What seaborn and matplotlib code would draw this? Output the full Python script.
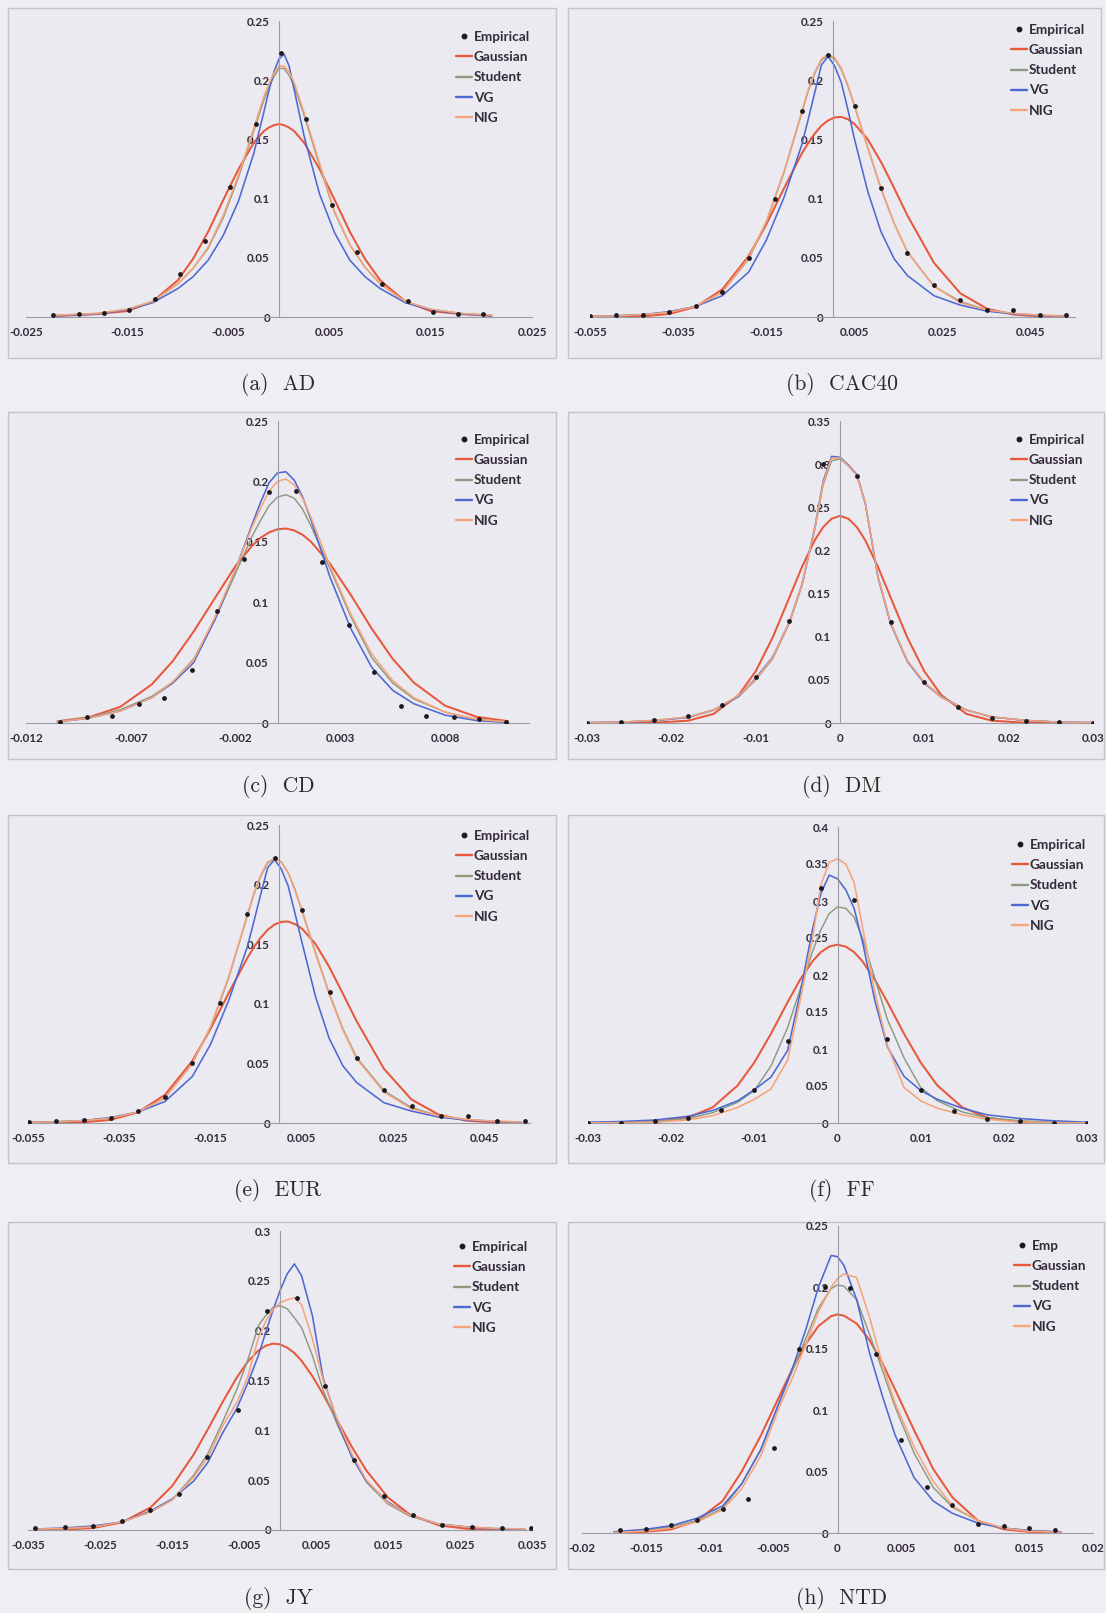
import matplotlib
matplotlib.use("Agg")
import matplotlib.pyplot as plt
import seaborn as sns
import pandas as pd
from matplotlib.patches import Rectangle
from matplotlib.lines import Line2D

sns.set_theme(style="white")
plt.rcParams['font.family'] = ['Lato', 'DejaVu Sans']

MODELS = ['Gaussian', 'Student', 'VG', 'NIG']

# ---------------- (a) AD ----------------
AD_x = [-0.022, -0.018, -0.015, -0.0125, -0.01, -0.0085, -0.007, -0.0055, -0.004, -0.0025, -0.0015, -0.001, -0.0005,
        0.0, 0.0005, 0.001, 0.0015, 0.0025, 0.004, 0.0055, 0.007, 0.0085, 0.01, 0.0125, 0.015, 0.018, 0.021]
AD_gauss = [0.0008, 0.0025, 0.005, 0.013, 0.031, 0.049, 0.072, 0.099, 0.125, 0.147, 0.157, 0.160, 0.162,
            0.163, 0.162, 0.160, 0.157, 0.147, 0.125, 0.099, 0.072, 0.049, 0.031, 0.013, 0.005, 0.0025, 0.001]
AD_student = [0.0015, 0.003, 0.0065, 0.013, 0.028, 0.041, 0.058, 0.084, 0.118, 0.157, 0.183, 0.194, 0.203,
              0.210, 0.210, 0.204, 0.195, 0.170, 0.128, 0.088, 0.061, 0.042, 0.028, 0.013, 0.0065, 0.003, 0.0015]
AD_vg = [0.001, 0.0025, 0.006, 0.012, 0.024, 0.034, 0.048, 0.069, 0.098, 0.138, 0.173, 0.191, 0.207,
         0.218, 0.222, 0.212, 0.192, 0.152, 0.104, 0.071, 0.048, 0.034, 0.024, 0.012, 0.006, 0.0025, 0.001]
AD_nig = [0.0015, 0.003, 0.0065, 0.013, 0.028, 0.041, 0.059, 0.086, 0.120, 0.159, 0.186, 0.197, 0.206,
          0.212, 0.212, 0.207, 0.198, 0.172, 0.130, 0.089, 0.061, 0.042, 0.028, 0.013, 0.0065, 0.003, 0.0015]
AD_emp_x = [-0.0223, -0.0198, -0.0173, -0.0148, -0.0123, -0.0098, -0.0073, -0.0048, -0.0023, 0.0002, 0.0027,
            0.0052, 0.0077, 0.0102, 0.0127, 0.0152, 0.0177, 0.0202]
AD_emp_y = [0.002, 0.0025, 0.0037, 0.0056, 0.0155, 0.0363, 0.0638, 0.1097, 0.1628, 0.2227, 0.1673, 0.0950,
            0.0551, 0.0281, 0.0135, 0.0045, 0.0022, 0.0025]
AD_xticks = [-0.025, -0.015, -0.005, 0.005, 0.015, 0.025]
AD_xticklabels = ['-0.025', '-0.015', '-0.005', '0.005', '0.015', '0.025']

# ---------------- (b) CAC40 ----------------
CAC_x = [-0.055, -0.049, -0.043, -0.037, -0.031, -0.025, -0.019, -0.015, -0.011, -0.007, -0.0055, -0.004, -0.0025,
         -0.001, 0.0005, 0.002, 0.0035, 0.005, 0.008, 0.011, 0.014, 0.017, 0.023, 0.029, 0.035, 0.041, 0.047, 0.053]
CAC_gauss = [0.0, 0.0001, 0.0006, 0.0026, 0.0086, 0.0233, 0.0516, 0.0783, 0.1087, 0.1378, 0.147, 0.155, 0.1616,
             0.166, 0.1685, 0.169, 0.167, 0.163, 0.150, 0.131, 0.1087, 0.0857, 0.0458, 0.020, 0.0071, 0.0021,
             0.0005, 0.0001]
CAC_student = [0.0005, 0.001, 0.002, 0.004, 0.009, 0.021, 0.049, 0.080, 0.122, 0.172, 0.191, 0.206, 0.217,
               0.221, 0.218, 0.209, 0.195, 0.178, 0.143, 0.108, 0.079, 0.055, 0.026, 0.013, 0.006, 0.003,
               0.0015, 0.001]
CAC_vg = [0.0005, 0.001, 0.002, 0.0045, 0.009, 0.018, 0.038, 0.065, 0.101, 0.145, 0.167, 0.190, 0.213,
          0.220, 0.212, 0.198, 0.175, 0.150, 0.106, 0.072, 0.049, 0.035, 0.018, 0.010, 0.005, 0.0025,
          0.0012, 0.0006]
CAC_nig = [0.0005, 0.001, 0.002, 0.004, 0.009, 0.021, 0.050, 0.081, 0.123, 0.173, 0.192, 0.207, 0.218,
           0.222, 0.219, 0.210, 0.196, 0.179, 0.143, 0.109, 0.079, 0.055, 0.026, 0.012, 0.006, 0.003,
           0.0015, 0.0008]
CAC_emp_x = [-0.055, -0.049, -0.043, -0.037, -0.031, -0.025, -0.019, -0.013, -0.007, -0.001, 0.005, 0.011,
             0.017, 0.023, 0.029, 0.035, 0.041, 0.047, 0.053]
CAC_emp_y = [0.001, 0.0015, 0.002, 0.004, 0.009, 0.021, 0.050, 0.100, 0.174, 0.221, 0.178, 0.109, 0.054,
             0.027, 0.014, 0.006, 0.006, 0.0017, 0.0017]
CAC_xticks = [-0.055, -0.035, -0.015, 0.005, 0.025, 0.045]
CAC_xticklabels = ['-0.055', '-0.035', '-0.015', '0.005', '0.025', '0.045']

# ---------------- (c) CD ----------------
CD_x = [-0.0105, -0.009, -0.0075, -0.006, -0.005, -0.004, -0.003, -0.002, -0.0012, -0.0008, -0.0004, 0.0, 0.0004,
        0.0008, 0.0012, 0.0016, 0.0025, 0.0035, 0.0045, 0.0055, 0.0065, 0.008, 0.0095, 0.011]
CD_gauss = [0.0014, 0.0047, 0.0134, 0.0319, 0.0512, 0.0757, 0.103, 0.130, 0.147, 0.1534, 0.1578, 0.1604, 0.161,
            0.1594, 0.1558, 0.150, 0.132, 0.106, 0.078, 0.053, 0.0335, 0.0143, 0.0051, 0.0015]
CD_student = [0.0012, 0.0045, 0.011, 0.022, 0.034, 0.053, 0.085, 0.124, 0.155, 0.168, 0.180, 0.187, 0.189,
              0.186, 0.177, 0.163, 0.128, 0.088, 0.054, 0.033, 0.020, 0.009, 0.003, 0.001]
CD_vg = [0.0008, 0.004, 0.010, 0.021, 0.033, 0.050, 0.085, 0.127, 0.165, 0.183, 0.199, 0.207, 0.208,
         0.201, 0.187, 0.168, 0.121, 0.078, 0.046, 0.027, 0.016, 0.0065, 0.002, 0.0005]
CD_nig = [0.001, 0.004, 0.010, 0.021, 0.034, 0.052, 0.087, 0.127, 0.163, 0.178, 0.192, 0.200, 0.202,
          0.197, 0.186, 0.170, 0.130, 0.090, 0.057, 0.035, 0.021, 0.009, 0.003, 0.001]
CD_emp_x = [-0.0104, -0.0091, -0.0079, -0.0066, -0.0054, -0.0041, -0.0029, -0.0016, -0.0004, 0.0009, 0.0021,
            0.0034, 0.0046, 0.0059, 0.0071, 0.0084, 0.0096, 0.0109]
CD_emp_y = [0.0005, 0.0047, 0.0055, 0.016, 0.021, 0.044, 0.093, 0.136, 0.191, 0.192, 0.1335, 0.081, 0.042,
            0.0144, 0.006, 0.0047, 0.0033, 0.0006]
CD_xticks = [-0.012, -0.007, -0.002, 0.003, 0.008]
CD_xticklabels = ['-0.012', '-0.007', '-0.002', '0.003', '0.008']

# ---------------- (d) DM ----------------
DM_x = [-0.03, -0.026, -0.022, -0.018, -0.015, -0.012, -0.01, -0.008, -0.006, -0.0045, -0.003, -0.002, -0.001, 0.0,
        0.001, 0.002, 0.003, 0.0045, 0.006, 0.008, 0.01, 0.012, 0.015, 0.018, 0.022, 0.026, 0.03]
DM_gauss = [0.0, 0.0, 0.0003, 0.0027, 0.0105, 0.0325, 0.0599, 0.0987, 0.1456, 0.181, 0.2118, 0.227, 0.2367, 0.240,
            0.2367, 0.227, 0.2118, 0.181, 0.1456, 0.0987, 0.0599, 0.0325, 0.0105, 0.0027, 0.0003, 0.0, 0.0]
DM_student = [0.0005, 0.001, 0.003, 0.007, 0.015, 0.031, 0.050, 0.074, 0.116, 0.160, 0.224, 0.276, 0.304, 0.306,
              0.298, 0.287, 0.254, 0.170, 0.116, 0.072, 0.047, 0.031, 0.015, 0.007, 0.003, 0.001, 0.0005]
DM_vg = [0.0005, 0.001, 0.0025, 0.0065, 0.015, 0.031, 0.052, 0.076, 0.117, 0.161, 0.226, 0.280, 0.309, 0.308,
         0.299, 0.288, 0.255, 0.169, 0.115, 0.071, 0.046, 0.030, 0.015, 0.007, 0.003, 0.001, 0.0005]
DM_nig = [0.0005, 0.001, 0.003, 0.007, 0.015, 0.032, 0.051, 0.075, 0.117, 0.161, 0.225, 0.278, 0.307, 0.307,
          0.298, 0.287, 0.255, 0.170, 0.116, 0.072, 0.047, 0.030, 0.015, 0.007, 0.003, 0.001, 0.0005]
DM_emp_x = [-0.03, -0.026, -0.022, -0.018, -0.014, -0.01, -0.006, -0.002, 0.002, 0.006, 0.01, 0.014, 0.018,
            0.022, 0.026, 0.03]
DM_emp_y = [0.0, 0.001, 0.003, 0.008, 0.021, 0.053, 0.118, 0.300, 0.2865, 0.117, 0.047, 0.019, 0.006, 0.002,
            0.001, 0.0]
DM_xticks = [-0.03, -0.02, -0.01, 0.0, 0.01, 0.02, 0.03]
DM_xticklabels = ['-0.03', '-0.02', '-0.01', '0', '0.01', '0.02', '0.03']

# ---------------- (e) EUR ----------------
EUR_x = [-0.055, -0.049, -0.043, -0.037, -0.031, -0.025, -0.019, -0.015, -0.011, -0.007, -0.0055, -0.004, -0.0025,
         -0.001, 0.0005, 0.002, 0.0035, 0.005, 0.008, 0.011, 0.014, 0.017, 0.023, 0.029, 0.035, 0.041, 0.047, 0.053]
EUR_gauss = [0.0, 0.0001, 0.0006, 0.0026, 0.0088, 0.0236, 0.0520, 0.0790, 0.1092, 0.1380, 0.1475, 0.1555, 0.162,
             0.1665, 0.1688, 0.169, 0.1668, 0.1632, 0.1502, 0.131, 0.1085, 0.0855, 0.0455, 0.0198, 0.007, 0.002,
             0.0005, 0.0001]
EUR_student = [0.0005, 0.001, 0.002, 0.004, 0.009, 0.021, 0.050, 0.080, 0.122, 0.173, 0.192, 0.207, 0.218,
               0.222, 0.219, 0.210, 0.196, 0.179, 0.143, 0.109, 0.079, 0.055, 0.027, 0.013, 0.006, 0.003,
               0.0015, 0.001]
EUR_vg = [0.0005, 0.001, 0.002, 0.0045, 0.009, 0.018, 0.039, 0.066, 0.103, 0.147, 0.169, 0.192, 0.214,
          0.221, 0.213, 0.199, 0.176, 0.152, 0.106, 0.071, 0.048, 0.034, 0.017, 0.010, 0.005, 0.0025,
          0.0012, 0.0006]
EUR_nig = [0.0005, 0.001, 0.002, 0.004, 0.009, 0.021, 0.050, 0.081, 0.123, 0.174, 0.193, 0.208, 0.219,
           0.222, 0.219, 0.210, 0.195, 0.178, 0.142, 0.108, 0.078, 0.054, 0.026, 0.012, 0.006, 0.003,
           0.0015, 0.0008]
EUR_emp_x = [-0.0548, -0.0488, -0.0428, -0.0368, -0.0308, -0.0249, -0.019, -0.013, -0.007, -0.0008, 0.0051,
             0.0111, 0.017, 0.0231, 0.0291, 0.0354, 0.0415, 0.0477, 0.0538]
EUR_emp_y = [0.0005, 0.0014, 0.0025, 0.0042, 0.0098, 0.0217, 0.0506, 0.101, 0.175, 0.222, 0.179, 0.110,
             0.0546, 0.028, 0.0146, 0.0062, 0.0062, 0.0014, 0.0014]
EUR_xticks = [-0.055, -0.035, -0.015, 0.005, 0.025, 0.045]
EUR_xticklabels = ['-0.055', '-0.035', '-0.015', '0.005', '0.025', '0.045']

# ---------------- (f) FF ----------------
FF_x = [-0.03, -0.026, -0.022, -0.018, -0.015, -0.012, -0.01, -0.008, -0.006, -0.0045, -0.003, -0.002, -0.001, 0.0,
        0.001, 0.002, 0.003, 0.0045, 0.006, 0.008, 0.01, 0.012, 0.015, 0.018, 0.022, 0.026, 0.03]
FF_gauss = [0.0, 0.0002, 0.0013, 0.0073, 0.0212, 0.0508, 0.0818, 0.1206, 0.1633, 0.1936, 0.2186, 0.2309, 0.2384,
            0.241, 0.2384, 0.2309, 0.2186, 0.1936, 0.1633, 0.1206, 0.0818, 0.0508, 0.0212, 0.0073, 0.0013, 0.0002, 0.0]
FF_student = [0.0005, 0.001, 0.002, 0.006, 0.014, 0.028, 0.044, 0.077, 0.129, 0.180, 0.232, 0.261, 0.283, 0.292,
              0.290, 0.278, 0.250, 0.195, 0.140, 0.088, 0.048, 0.030, 0.015, 0.007, 0.003, 0.001, 0.0005]
FF_vg = [0.001, 0.002, 0.004, 0.009, 0.017, 0.030, 0.045, 0.062, 0.098, 0.175, 0.262, 0.310, 0.335, 0.330,
         0.315, 0.290, 0.245, 0.165, 0.103, 0.063, 0.044, 0.032, 0.020, 0.011, 0.006, 0.003, 0.001]
FF_nig = [0.0002, 0.0005, 0.0012, 0.004, 0.010, 0.021, 0.032, 0.046, 0.085, 0.165, 0.250, 0.322, 0.352, 0.357,
          0.350, 0.325, 0.265, 0.176, 0.105, 0.048, 0.030, 0.020, 0.011, 0.005, 0.0015, 0.0005, 0.0002]
FF_emp_x = [-0.03, -0.026, -0.022, -0.018, -0.014, -0.01, -0.006, -0.002, 0.002, 0.006, 0.01, 0.014, 0.018,
            0.022, 0.026, 0.03]
FF_emp_y = [0.0, 0.0, 0.0022, 0.0067, 0.018, 0.045, 0.111, 0.3175, 0.301, 0.113, 0.044, 0.0157, 0.0054, 0.0031,
            0.0, 0.0]
FF_xticks = [-0.03, -0.02, -0.01, 0.0, 0.01, 0.02, 0.03]
FF_xticklabels = ['-0.03', '-0.02', '-0.01', '0', '0.01', '0.02', '0.03']

# ---------------- (g) JY ----------------
JY_x = [-0.034, -0.03, -0.026, -0.022, -0.018, -0.015, -0.012, -0.01, -0.008, -0.006, -0.0045, -0.003, -0.002,
        -0.001, 0.0, 0.001, 0.002, 0.003, 0.0045, 0.006, 0.008, 0.01, 0.012, 0.015, 0.018, 0.022, 0.026, 0.03, 0.034]
JY_gauss = [0.0001, 0.0004, 0.002, 0.0075, 0.0225, 0.0439, 0.0756, 0.1013, 0.128, 0.153, 0.1688, 0.180, 0.1848,
            0.187, 0.1863, 0.183, 0.1776, 0.1697, 0.1544, 0.1359, 0.1094, 0.0831, 0.0596, 0.0326, 0.0157, 0.0048,
            0.0012, 0.0002, 0.0]
JY_student = [0.001, 0.0015, 0.003, 0.008, 0.018, 0.030, 0.055, 0.077, 0.108, 0.141, 0.170, 0.205, 0.215,
              0.223, 0.225, 0.222, 0.213, 0.203, 0.175, 0.140, 0.105, 0.074, 0.048, 0.026, 0.014, 0.006,
              0.003, 0.0015, 0.001]
JY_vg = [0.001, 0.002, 0.004, 0.008, 0.019, 0.031, 0.049, 0.068, 0.097, 0.122, 0.147, 0.175, 0.198,
         0.220, 0.240, 0.257, 0.267, 0.255, 0.215, 0.152, 0.108, 0.073, 0.049, 0.028, 0.015, 0.006,
         0.003, 0.001, 0.0005]
JY_nig = [0.001, 0.0015, 0.003, 0.008, 0.018, 0.030, 0.053, 0.073, 0.104, 0.128, 0.153, 0.193, 0.209,
          0.221, 0.228, 0.231, 0.233, 0.226, 0.192, 0.150, 0.110, 0.076, 0.050, 0.027, 0.015, 0.006,
          0.003, 0.0015, 0.001]
JY_emp_x = [-0.034, -0.0299, -0.026, -0.0219, -0.018, -0.014, -0.0101, -0.0059, -0.0018, 0.0023, 0.0063, 0.0103,
            0.0144, 0.0185, 0.0225, 0.0267, 0.0308, 0.0349]
JY_emp_y = [0.0017, 0.003, 0.0043, 0.0093, 0.020, 0.036, 0.073, 0.120, 0.220, 0.2327, 0.144, 0.070, 0.034,
            0.015, 0.0047, 0.0033, 0.002, 0.002]
JY_xticks = [-0.035, -0.025, -0.015, -0.005, 0.005, 0.015, 0.025, 0.035]
JY_xticklabels = ['-0.035', '-0.025', '-0.015', '-0.005', '0.005', '0.015', '0.025', '0.035']

# ---------------- (h) NTD ----------------
NTD_x = [-0.0175, -0.015, -0.013, -0.011, -0.009, -0.0075, -0.006, -0.0045, -0.0035, -0.0025, -0.0015, -0.0005,
         0.0, 0.0005, 0.0015, 0.0025, 0.0035, 0.0045, 0.006, 0.0075, 0.009, 0.011, 0.013, 0.015, 0.0175]
NTD_gauss = [0.0002, 0.001, 0.003, 0.010, 0.026, 0.050, 0.0794, 0.1125, 0.1344, 0.1537, 0.1684, 0.1766,
             0.178, 0.177, 0.1706, 0.1571, 0.1386, 0.117, 0.0836, 0.052, 0.029, 0.010, 0.003, 0.001, 0.0002]
NTD_student = [0.0008, 0.002, 0.005, 0.010, 0.020, 0.040, 0.068, 0.108, 0.133, 0.158, 0.183, 0.199,
               0.202, 0.201, 0.190, 0.162, 0.133, 0.103, 0.065, 0.037, 0.021, 0.010, 0.004, 0.002, 0.0008]
NTD_vg = [0.001, 0.003, 0.006, 0.012, 0.022, 0.040, 0.068, 0.108, 0.135, 0.165, 0.200, 0.226,
          0.225, 0.218, 0.190, 0.147, 0.112, 0.080, 0.045, 0.026, 0.016, 0.008, 0.004, 0.002, 0.0008]
NTD_nig = [0.0005, 0.0015, 0.004, 0.009, 0.019, 0.036, 0.063, 0.104, 0.127, 0.153, 0.180, 0.200,
           0.207, 0.211, 0.208, 0.176, 0.138, 0.106, 0.070, 0.042, 0.022, 0.010, 0.004, 0.0015, 0.0005]
NTD_emp_x = [-0.017, -0.015, -0.013, -0.011, -0.009, -0.007, -0.005, -0.003, -0.001, 0.001, 0.003, 0.005, 0.007,
             0.009, 0.011, 0.013, 0.015, 0.017]
NTD_emp_y = [0.0022, 0.0035, 0.0063, 0.0104, 0.0194, 0.0273, 0.069, 0.150, 0.2006, 0.1995, 0.1455, 0.0759,
             0.0377, 0.0232, 0.0071, 0.0055, 0.0044, 0.0025]
NTD_xticks = [-0.02, -0.015, -0.01, -0.005, 0.0, 0.005, 0.01, 0.015, 0.02]
NTD_xticklabels = ['-0.02', '-0.015', '-0.01', '-0.005', '0', '0.005', '0.01', '0.015', '0.02']

# ---------------- y ticks ----------------
Y25_ticks = [0, 0.05, 0.1, 0.15, 0.2, 0.25]
Y25_labels = ['0', '0.05', '0.1', '0.15', '0.2', '0.25']
Y30_ticks = [0, 0.05, 0.1, 0.15, 0.2, 0.25, 0.3]
Y30_labels = ['0', '0.05', '0.1', '0.15', '0.2', '0.25', '0.3']
Y35_ticks = [0, 0.05, 0.1, 0.15, 0.2, 0.25, 0.3, 0.35]
Y35_labels = ['0', '0.05', '0.1', '0.15', '0.2', '0.25', '0.3', '0.35']
Y40_ticks = [0, 0.05, 0.1, 0.15, 0.2, 0.25, 0.3, 0.35, 0.4]
Y40_labels = ['0', '0.05', '0.1', '0.15', '0.2', '0.25', '0.3', '0.35', '0.4']

CAPTIONS = ['(a)  AD', '(b)  CAC40', '(c)  CD', '(d)  DM', '(e)  EUR', '(f)  FF', '(g)  JY', '(h)  NTD']

# ---------------- styling / layout ----------------
W, H = 1106, 1613
PAGE_BG = '#efeef2'
PANEL_BG = '#ebeaf1'
TEXT = '#332b38'
COLORS = {'Gaussian': '#e8573a', 'Student': '#8c9a80', 'VG': '#4d69d1', 'NIG': '#f5a47c'}
WIDTHS = {'Gaussian': 1.45, 'Student': 1.05, 'VG': 1.15, 'NIG': 1.15}

panels = [
    dict(cap=CAPTIONS[0], box=(8, 8, 556, 358), xpx=(26, 532), ypx=(317, 21), xlim=(-0.025, 0.025), ylim=(0, 0.25),
         xt=AD_xticks, xtl=AD_xticklabels, yt=Y25_ticks, ytl=Y25_labels, leg=(456, 31), cpos=(278, 384),
         x=AD_x, curves=[AD_gauss, AD_student, AD_vg, AD_nig], ex=AD_emp_x, ey=AD_emp_y, emp='Empirical'),
    dict(cap=CAPTIONS[1], box=(568, 8, 1101, 358), xpx=(590, 1075), ypx=(317, 21), xlim=(-0.055, 0.055), ylim=(0, 0.25),
         xt=CAC_xticks, xtl=CAC_xticklabels, yt=Y25_ticks, ytl=Y25_labels, leg=(1011, 24), cpos=(842, 384),
         x=CAC_x, curves=[CAC_gauss, CAC_student, CAC_vg, CAC_nig], ex=CAC_emp_x, ey=CAC_emp_y, emp='Empirical'),
    dict(cap=CAPTIONS[2], box=(8, 412, 556, 759), xpx=(26, 529), ypx=(723, 421), xlim=(-0.012, 0.012), ylim=(0, 0.25),
         xt=CD_xticks, xtl=CD_xticklabels, yt=Y25_ticks, ytl=Y25_labels, leg=(456, 434), cpos=(278, 786),
         x=CD_x, curves=[CD_gauss, CD_student, CD_vg, CD_nig], ex=CD_emp_x, ey=CD_emp_y, emp='Empirical'),
    dict(cap=CAPTIONS[3], box=(568, 412, 1104, 759), xpx=(587, 1093), ypx=(723, 421), xlim=(-0.03, 0.03), ylim=(0, 0.35),
         xt=DM_xticks, xtl=DM_xticklabels, yt=Y35_ticks, ytl=Y35_labels, leg=(1011, 434), cpos=(842, 786),
         x=DM_x, curves=[DM_gauss, DM_student, DM_vg, DM_nig], ex=DM_emp_x, ey=DM_emp_y, emp='Empirical'),
    dict(cap=CAPTIONS[4], box=(8, 815, 556, 1163), xpx=(28, 530), ypx=(1123, 825), xlim=(-0.055, 0.055), ylim=(0, 0.25),
         xt=EUR_xticks, xtl=EUR_xticklabels, yt=Y25_ticks, ytl=Y25_labels, leg=(456, 830), cpos=(278, 1190),
         x=EUR_x, curves=[EUR_gauss, EUR_student, EUR_vg, EUR_nig], ex=EUR_emp_x, ey=EUR_emp_y, emp='Empirical'),
    dict(cap=CAPTIONS[5], box=(568, 815, 1104, 1163), xpx=(588, 1087), ypx=(1123, 827), xlim=(-0.03, 0.03), ylim=(0, 0.4),
         xt=FF_xticks, xtl=FF_xticklabels, yt=Y40_ticks, ytl=Y40_labels, leg=(1012, 839), cpos=(842, 1190),
         x=FF_x, curves=[FF_gauss, FF_student, FF_vg, FF_nig], ex=FF_emp_x, ey=FF_emp_y, emp='Empirical'),
    dict(cap=CAPTIONS[6], box=(8, 1222, 556, 1569), xpx=(28, 532), ypx=(1530, 1231), xlim=(-0.035, 0.035), ylim=(0, 0.3),
         xt=JY_xticks, xtl=JY_xticklabels, yt=Y30_ticks, ytl=Y30_labels, leg=(454, 1241), cpos=(278, 1598),
         x=JY_x, curves=[JY_gauss, JY_student, JY_vg, JY_nig], ex=JY_emp_x, ey=JY_emp_y, emp='Empirical'),
    dict(cap=CAPTIONS[7], box=(568, 1222, 1104, 1569), xpx=(582, 1093), ypx=(1533, 1226), xlim=(-0.02, 0.02), ylim=(0, 0.25),
         xt=NTD_xticks, xtl=NTD_xticklabels, yt=Y25_ticks, ytl=Y25_labels, leg=(1014, 1240), cpos=(842, 1598),
         x=NTD_x, curves=[NTD_gauss, NTD_student, NTD_vg, NTD_nig], ex=NTD_emp_x, ey=NTD_emp_y, emp='Emp'),
]

fig = plt.figure(figsize=(W / 100, H / 100), dpi=100)
fig.patch.set_facecolor(PAGE_BG)

for p in panels:
    bx0, by0, bx1, by1 = p['box']
    fig.patches.append(Rectangle((bx0 / W, 1 - by1 / H), (bx1 - bx0) / W, (by1 - by0) / H,
                                 transform=fig.transFigure, facecolor=PANEL_BG, edgecolor='#c4c3ca',
                                 lw=1.0, zorder=-5))
    l, r = p['xpx']
    yb, yt_ = p['ypx']
    ax = fig.add_axes([l / W, 1 - yb / H, (r - l) / W, (yb - yt_) / H])
    ax.set_zorder(2)
    ax.set_facecolor('none')
    ax.patch.set_alpha(0)

    df = pd.DataFrame({'x': p['x'] * 4,
                       'density': sum(p['curves'], []),
                       'model': [m for m in MODELS for _ in p['x']]})
    for m in MODELS:
        sns.lineplot(data=df[df['model'] == m], x='x', y='density', ax=ax, color=COLORS[m],
                     lw=WIDTHS[m], estimator=None, sort=False, legend=False)
    for line in ax.get_lines():
        line.set_solid_joinstyle('round')
        line.set_solid_capstyle('round')
    sns.scatterplot(x=p['ex'], y=p['ey'], ax=ax, color='#1c1a1f', s=12, linewidth=0, zorder=5, legend=False)

    ax.set_xlim(*p['xlim'])
    ax.set_ylim(*p['ylim'])
    ax.set_xlabel('')
    ax.set_ylabel('')
    ax.grid(False)
    for s in ['top', 'right']:
        ax.spines[s].set_visible(False)
    ax.spines['left'].set_position(('data', 0))
    ax.spines['bottom'].set_position(('data', 0))
    for s in ['left', 'bottom']:
        ax.spines[s].set_color('#9d9ca4')
        ax.spines[s].set_linewidth(0.8)
    ax.set_xticks(p['xt'], p['xtl'])
    ax.set_yticks(p['yt'], p['ytl'])
    ax.tick_params(axis='both', direction='out', length=3, width=0.7, color='#9d9ca4',
                   labelsize=8.4, labelcolor=TEXT)
    ax.tick_params(axis='x', pad=4.5)
    ax.tick_params(axis='y', pad=3.5)
    for lab in ax.get_xticklabels() + ax.get_yticklabels():
        lab.set_fontweight('bold')

    handles = [Line2D([], [], marker='o', ls='none', color='#1c1a1f', markersize=3.2)]
    handles += [Line2D([], [], color=COLORS[m], lw=1.7) for m in MODELS]
    labels = [p['emp']] + MODELS
    lx, ly = p['leg']
    ax.legend(handles, labels, loc='upper left', bbox_to_anchor=(lx / W, 1 - ly / H),
              bbox_transform=fig.transFigure, frameon=False,
              prop=dict(weight='bold', size=9.8), labelcolor=TEXT, handlelength=1.2,
              handletextpad=0.12, labelspacing=0.6, borderpad=0, borderaxespad=0)

    cx, cy = p['cpos']
    fig.text(cx / W, 1 - cy / H, p['cap'], family='cmr10', size=15.5, ha='center', va='center',
             color='#2a2a2a')

fig.savefig('out.png', dpi=100, facecolor=PAGE_BG)
